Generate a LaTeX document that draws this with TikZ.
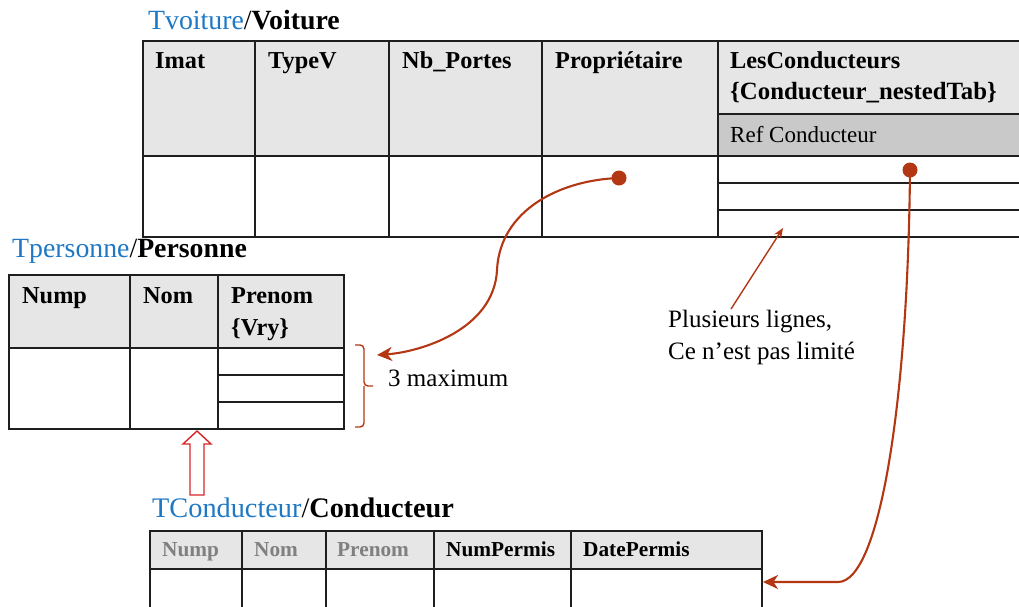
\documentclass[tikz,border=0pt]{standalone}
\usepackage{fontspec}
\setmainfont{Liberation Serif}
\usetikzlibrary{arrows.meta,calc}
\definecolor{hdr}{RGB}{230,230,230}
\definecolor{refgrey}{RGB}{201,201,201}
\definecolor{tblue}{RGB}{30,120,196}
\definecolor{link}{RGB}{178,55,18}
\definecolor{inh}{RGB}{212,38,38}
\definecolor{rule}{RGB}{30,30,30}
\definecolor{inherited}{RGB}{128,128,128}
\begin{document}
\begin{tikzpicture}[x=1pt,y=-1pt,
  grid/.style={draw=rule,line width=1.5pt},
  tabtitle/.style={anchor=base west,inner sep=0pt,font=\fontsize{27.8}{30}\selectfont},
  colhead/.style={anchor=base west,inner sep=0pt,font=\fontsize{24.3}{28}\selectfont\bfseries},
  smallhead/.style={anchor=base west,inner sep=0pt,font=\fontsize{21.3}{24}\selectfont\bfseries},
  plain/.style={anchor=base west,inner sep=0pt,font=\fontsize{25}{30}\selectfont},
  dot/.style={circle,fill=link,inner sep=0pt,minimum size=15pt},
  linkline/.style={draw=link,line width=2.1pt,-{Stealth[length=15pt,width=14pt,inset=4.5pt]}},
  noteline/.style={draw=link,line width=1.4pt,-{Stealth[length=10pt,width=8pt]}},
]
\useasboundingbox (0,0) rectangle (1019,606);

% ---------- Voiture ----------
\fill[hdr] (143,41) rectangle (1019,156);
\fill[refgrey] (718,114) rectangle (1019,156);
\draw[grid] (1019,41) -- (143,41) -- (143,237) -- (1019,237);
\draw[grid] (143,156) -- (1019,156);
\foreach \x in {255,389,542,718} \draw[grid] (\x,41) -- (\x,237);
\draw[grid] (718,114) -- (1019,114);
\draw[grid] (718,183) -- (1019,183) (718,210) -- (1019,210);

\node[tabtitle] (tV) at (148,29) {\textcolor{tblue}{Tvoiture}/\textbf{Voiture}};
\node[colhead] (vImat) at (155,68) {Imat};
\node[colhead] (vType) at (268,68) {TypeV};
\node[colhead] (vPortes) at (402,68) {Nb\_Portes};
\node[colhead] (vProp) at (555,68) {Propriétaire};
\node[colhead] (vCond) at (730,68) {LesConducteurs};
\node[colhead,font=\fontsize{24.8}{28}\selectfont\bfseries] (vNested) at (730,99) {\{Conducteur\_nestedTab\}};
\node[plain,font=\fontsize{23}{28}\selectfont] (vRef) at (730,142) {Ref Conducteur};

% ---------- Personne ----------
\fill[hdr] (9,275) rectangle (344,348);
\draw[grid] (9,275) rectangle (344,429);
\draw[grid] (9,348) -- (344,348);
\foreach \x in {130,218} \draw[grid] (\x,275) -- (\x,429);
\draw[grid] (218,375) -- (344,375) (218,402) -- (344,402);

\node[tabtitle] (tP) at (12,257) {\textcolor{tblue}{Tpersonne}/\textbf{Personne}};
\node[colhead] (pNump) at (22,303) {Nump};
\node[colhead] (pNom) at (143,303) {Nom};
\node[colhead] (pPrenom) at (231,303) {Prenom};
\node[colhead] (pVry) at (231,335) {\{Vry\}};

% bracket around the three Prenom lines
\draw[link,line width=1.4pt,rounded corners=4pt]
  (355,345) -- (364,345) -- (364,386) -- (373,386)
  (364,386) -- (364,427) -- (355,427);
\node[plain] (maxi) at (388,386) {3 maximum};

% ---------- Conducteur ----------
\fill[hdr] (150,531) rectangle (762,569);
\draw[grid] (150,612) -- (150,531) -- (762,531) -- (762,612);
\draw[grid] (150,569) -- (762,569);
\foreach \x in {242,326,434,571} \draw[grid] (\x,531) -- (\x,612);

\node[tabtitle,font=\fontsize{28.3}{30}\selectfont] (tC) at (152,517) {\textcolor{tblue}{TConducteur}/\textbf{Conducteur}};
\node[smallhead,text=inherited] (cNump) at (162,556) {Nump};
\node[smallhead,text=inherited] (cNom) at (254,556) {Nom};
\node[smallhead,text=inherited] (cPrenom) at (337,556) {Prenom};
\node[smallhead] (cNum) at (446,556) {NumPermis};
\node[smallhead] (cDate) at (583,556) {DatePermis};

% inheritance arrow: Conducteur is a Personne
\coordinate (inhBase) at (197,495);
\coordinate (inhTip) at (197,431);
\draw[inh,line width=1.4pt,line join=miter]
  ($(inhBase)+(-7,0)$) -- (190,444) -- (183,444) -- (inhTip) -- (211,444) -- (204,444) -- ($(inhBase)+(7,0)$) -- cycle;

% ---------- references ----------
\node[dot] (propDot) at (619,178) {};
\coordinate (prenomIn) at (377,355);
\draw[linkline] (propDot.center) .. controls (560,180) and (500,210) .. (497,270)
  .. controls (494,330) and (420,352) .. (prenomIn);

\node[dot] (refDot) at (910,170) {};
\coordinate (condIn) at (763,582);
\draw[linkline] (refDot.center) .. controls (908,400) and (880,582) .. (838,582) -- (condIn);

% note on the nested rows
\node[plain] (note1) at (668,327) {Plusieurs lignes,};
\node[plain] (note2) at (668,359) {Ce n’est pas limité};
\coordinate (noteTip) at (783,228);
\draw[noteline] (731,309) -- (noteTip);
\end{tikzpicture}
\end{document}
